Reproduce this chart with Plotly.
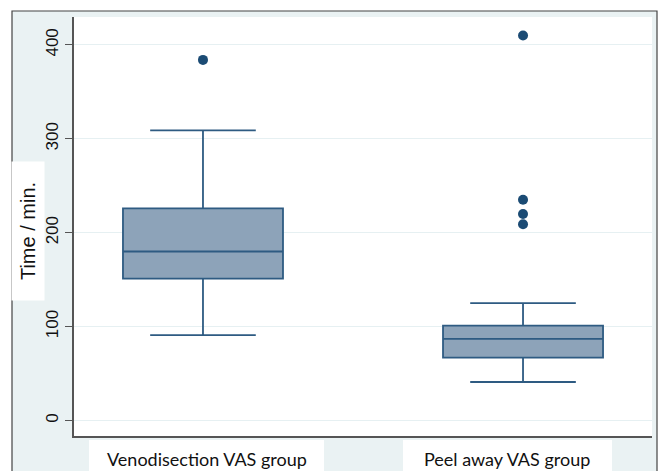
import plotly.graph_objects as go

# ---- data ----
categories = ["Venodisection VAS group", "Peel away VAS group"]
lower_whisker = [91, 41]
q1_values = [151, 67]
medians = [180, 87]
q3_values = [226, 101]
upper_whisker = [309, 125]
outliers_veno = [384]
outliers_peel = [209, 220, 235, 410]
y_ticks = [0, 100, 200, 300, 400]

# ---- layout geometry (pixels) ----
W, H = 659, 471
L, R, T, B = 74, 652, 17, 436

def px(x):
    return (x - L) / (R - L)

def py(y):
    return (B - y) / (B - T)

BOX_FILL = "#8DA3B9"
BOX_LINE = "#2E5B82"
DOT = "#1B4B74"
BG = "#EAF2F3"

fig = go.Figure()
positions = [0, 1]
for i, cat in enumerate(categories):
    fig.add_trace(go.Box(
        x=[positions[i]], q1=[q1_values[i]], median=[medians[i]], q3=[q3_values[i]],
        lowerfence=[lower_whisker[i]], upperfence=[upper_whisker[i]],
        width=0.5, whiskerwidth=0.66, fillcolor=BOX_FILL,
        line=dict(color=BOX_LINE, width=1.8), name=cat, showlegend=False,
        boxpoints=False,
    ))

out_x = [positions[0]] * len(outliers_veno) + [positions[1]] * len(outliers_peel)
out_y = outliers_veno + outliers_peel
fig.add_trace(go.Scatter(x=out_x, y=out_y, mode="markers",
                         marker=dict(color=DOT, size=10), showlegend=False))

shapes = [
    # white strips outside the outer frame
    dict(type="rect", xref="paper", yref="paper", x0=px(0), x1=px(12), y0=py(H + 5), y1=py(-5),
         fillcolor="white", line=dict(width=0), layer="above"),
    dict(type="rect", xref="paper", yref="paper", x0=px(0), x1=px(W + 5), y0=py(11), y1=py(-5),
         fillcolor="white", line=dict(width=0), layer="above"),
    dict(type="rect", xref="paper", yref="paper", x0=px(657), x1=px(W + 5), y0=py(H + 5), y1=py(-5),
         fillcolor="white", line=dict(width=0), layer="above"),
    # outer frame
    dict(type="rect", xref="paper", yref="paper", x0=px(12), x1=px(657), y0=py(H + 10), y1=py(11),
         fillcolor="rgba(0,0,0,0)", line=dict(color="#444444", width=1.2), layer="above"),
    # white label boxes at bottom
    dict(type="rect", xref="paper", yref="paper", x0=px(89), x1=px(324), y0=py(H + 10), y1=py(440),
         fillcolor="white", line=dict(width=0), layer="above"),
    dict(type="rect", xref="paper", yref="paper", x0=px(403), x1=px(612), y0=py(H + 10), y1=py(440),
         fillcolor="white", line=dict(width=0), layer="above"),
]

annotations = [
    dict(text="Time / min.", xref="paper", yref="paper", x=px(28), y=py(231),
         textangle=-90, showarrow=False, bgcolor="white", width=136, height=30,
         font=dict(family="Liberation Sans, Arial", size=20, color="#111111"),
         xanchor="center", yanchor="middle"),
    dict(text=categories[0], xref="paper", yref="paper", x=px(207), y=py(459),
         showarrow=False, font=dict(family="Lato", size=18, color="#111111"),
         xanchor="center", yanchor="middle"),
    dict(text=categories[1], xref="paper", yref="paper", x=px(507), y=py(459),
         showarrow=False, font=dict(family="Lato", size=18, color="#111111"),
         xanchor="center", yanchor="middle"),
]

fig.update_layout(
    width=W, height=H,
    margin=dict(l=L, r=W - R, t=T, b=H - B, pad=0),
    paper_bgcolor=BG, plot_bgcolor="white",
    shapes=shapes, annotations=annotations,
    xaxis=dict(range=[-0.403, 1.403], showticklabels=False, ticks="", showgrid=False,
               zeroline=False, showline=True, linecolor="#555555", linewidth=1.5),
    yaxis=dict(range=[-16.5, 429.7], tickvals=y_ticks, ticktext=[str(v) for v in y_ticks],
               tickangle=-90, ticks="outside", ticklen=7, tickcolor="#555555",
               tickfont=dict(family="Liberation Sans, Arial", size=17, color="#111111"),
               showgrid=True, gridcolor="#E6F0F2", gridwidth=1.2, zeroline=False,
               showline=True, linecolor="#555555", linewidth=1.5),
)

fig.write_html("out.html", config={"displayModeBar": False},
               post_script="document.body.style.margin='0px';")
